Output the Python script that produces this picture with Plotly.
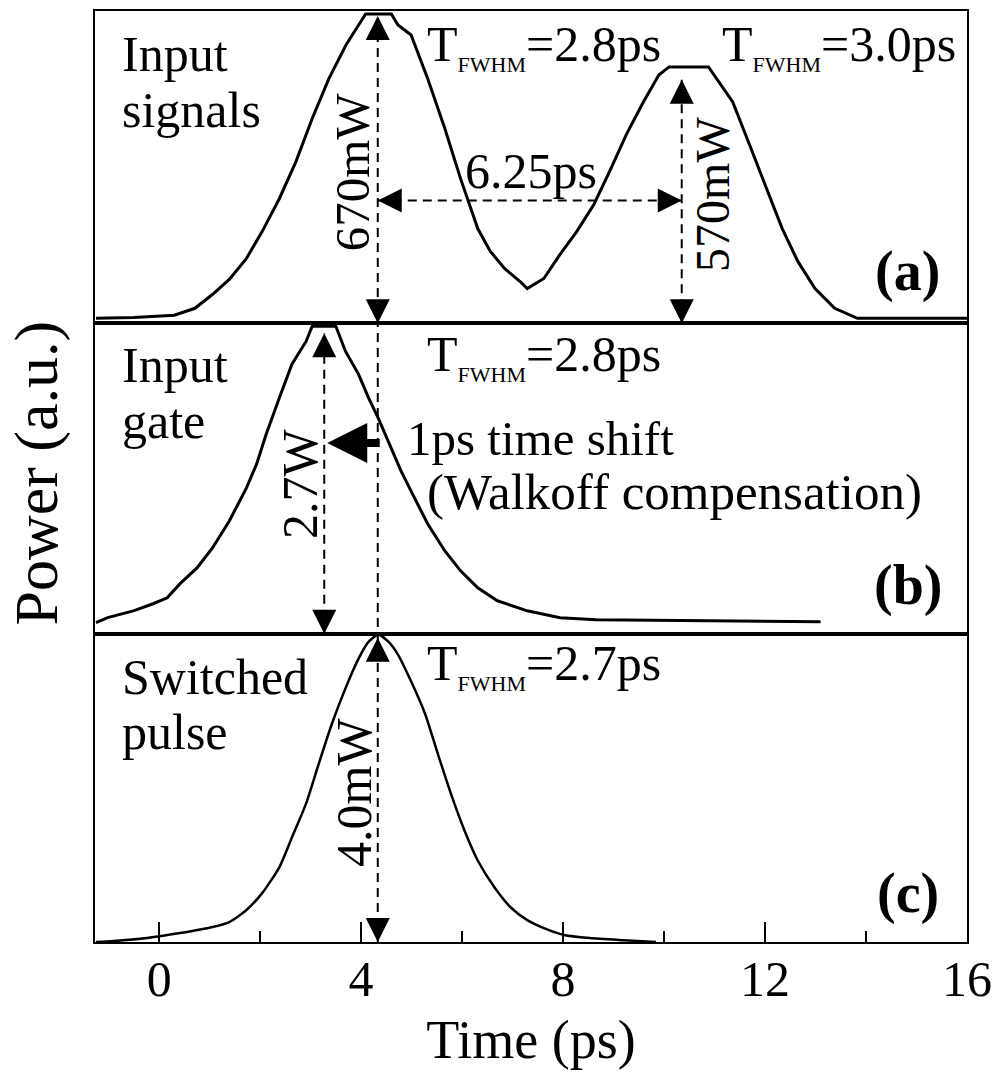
import plotly.graph_objects as go

# ---------------- data ----------------
# (a) input signals, normalised power (first peak = 1)
time_a = [-1.25, -0.5, 0.3, 0.71, 1.06, 1.39, 1.73, 2.04, 2.38, 2.71, 3.03, 3.36, 3.70,
          3.95, 4.09, 4.60, 4.73, 4.99, 5.32, 5.66, 5.97, 6.31, 6.56, 6.84, 7.15, 7.29,
          7.62, 7.94, 8.27, 8.61, 8.92, 9.25, 9.59, 9.90, 10.10, 10.88, 11.08, 11.36,
          11.67, 12.00, 12.34, 12.65, 12.99, 13.38, 13.83, 15.0, 16.0]
signal_a = [0.0, 0.003, 0.01, 0.033, 0.079, 0.128, 0.197, 0.285, 0.393, 0.515, 0.656, 0.787,
            0.898, 0.964, 1.0, 1.0, 0.964, 0.931, 0.787, 0.623, 0.459, 0.295, 0.220, 0.164,
            0.121, 0.098, 0.131, 0.210, 0.285, 0.374, 0.482, 0.603, 0.711, 0.800, 0.826,
            0.826, 0.777, 0.711, 0.580, 0.439, 0.295, 0.187, 0.098, 0.033, 0.0, 0.0, 0.0]

# (b) input gate
time_b = [-1.25, -1.02, -0.51, -0.12, 0.16, 0.41, 0.75, 1.06, 1.39, 1.73, 1.93, 2.12, 2.38,
          2.63, 2.91, 3.03, 3.50, 3.69, 3.95, 4.15, 4.34, 4.54, 4.79, 4.99, 5.32, 5.66,
          5.97, 6.31, 6.70, 7.29, 7.94, 8.66, 10.63, 13.1]
gate_b = [0.0, 0.017, 0.040, 0.064, 0.084, 0.131, 0.185, 0.253, 0.343, 0.455, 0.535, 0.636,
          0.758, 0.872, 0.949, 1.0, 1.0, 0.916, 0.838, 0.758, 0.690, 0.613, 0.512, 0.444,
          0.333, 0.242, 0.175, 0.118, 0.074, 0.040, 0.017, 0.010, 0.007, 0.003]

# (c) switched pulse
time_c = [-1.25, -0.9, -0.24, 0.41, 1.06, 1.39, 1.73, 2.04, 2.38, 2.63, 2.91, 3.16, 3.42,
          3.69, 3.95, 4.15, 4.34, 4.54, 4.73, 4.99, 5.27, 5.52, 5.78, 6.05, 6.31, 6.64,
          6.96, 7.29, 7.62, 8.02, 8.53, 9.19, 9.84]
pulse_c = [0.0, 0.003, 0.013, 0.029, 0.049, 0.065, 0.104, 0.159, 0.243, 0.340, 0.450, 0.579,
           0.709, 0.825, 0.922, 0.977, 1.0, 0.977, 0.935, 0.848, 0.741, 0.612, 0.482, 0.362,
           0.265, 0.178, 0.113, 0.071, 0.045, 0.023, 0.013, 0.006, 0.0]

tick_vals = [0, 4, 8, 12, 16]
tick_text = ["0", "4", "8", "12", "16"]

# ---------------- figure ----------------
W, H = 1001, 1080
L, R, T, B = 95, 26, 9, 138
PW, PH = W - L - R, H - T - B
FONT = "Liberation Serif, Times New Roman, serif"


def px(xp):
    return (xp - L) / PW


def py(yp):
    return (H - B - yp) / PH


fig = go.Figure()
fig.add_trace(go.Scatter(x=time_a, y=signal_a, mode="lines", xaxis="x", yaxis="y",
                         line=dict(color="black", width=3), showlegend=False))
fig.add_trace(go.Scatter(x=time_b, y=gate_b, mode="lines", xaxis="x2", yaxis="y2",
                         line=dict(color="black", width=3), showlegend=False))
fig.add_trace(go.Scatter(x=time_c, y=pulse_c, mode="lines", xaxis="x3", yaxis="y3",
                         line=dict(color="black", width=2.5, shape="spline", smoothing=0.6),
                         showlegend=False))

xr = [-1.27, 16]
frame = dict(showline=True, mirror=True, linecolor="black", linewidth=2,
             showgrid=False, zeroline=False)
b_ab, b_bc = py(322), py(633)

fig.update_layout(
    width=W, height=H, margin=dict(l=L, r=R, t=T, b=B),
    paper_bgcolor="white", plot_bgcolor="white",
    font=dict(family=FONT, color="black"),
    xaxis=dict(range=xr, anchor="y", showticklabels=False, ticks="", **frame),
    xaxis2=dict(range=xr, anchor="y2", showticklabels=False, ticks="", **frame),
    xaxis3=dict(range=xr, anchor="y3", tickvals=tick_vals, ticktext=tick_text,
                ticks="inside", ticklen=20, tickwidth=2, tickcolor="black",
                minor=dict(dtick=2, tick0=0, ticks="inside", ticklen=11, tickwidth=2,
                           tickcolor="black"),
                tickfont=dict(size=50, family=FONT), ticklabelstandoff=-8,
                title=dict(text="Time (ps)", font=dict(size=54, family=FONT), standoff=14),
                **frame),
    yaxis=dict(domain=[b_ab, 1], range=[-0.0164, 1.0098], showticklabels=False, ticks="", **frame),
    yaxis2=dict(domain=[b_bc, b_ab], range=[-0.037, 1.0101], showticklabels=False, ticks="", **frame),
    yaxis3=dict(domain=[0, b_bc], range=[0, 1.003], showticklabels=False, ticks="", **frame),
)

# ---------------- dashed guide lines ----------------
DASH = "9px,6px"
shapes = [
    dict(x0=4.33, x1=4.33, y0=py(942), y1=py(14)),      # through all panels
    dict(x0=10.35, x1=10.35, y0=py(322), y1=py(78)),    # 570 mW
    dict(x0=3.27, x1=3.27, y0=py(633), y1=py(332)),     # 2.7 W
    dict(x0=4.33, x1=10.35, y0=py(199), y1=py(199)),    # 6.25 ps
]
for s in shapes:
    fig.add_shape(type="line", xref="x", yref="paper", layer="above",
                  line=dict(color="black", width=2, dash=DASH), **s)

# arrow heads (tip, tail offset in pixels)
heads = [
    (4.33, 14, 0, 22), (4.33, 322, 0, -22),
    (10.35, 78, 0, 22), (10.35, 322, 0, -22),
    (4.33, 199, 22, 0), (10.35, 199, -22, 0),
    (3.27, 332, 0, 22), (3.27, 633, 0, -22),
    (4.33, 637, 0, 22), (4.33, 942, 0, -22),
]
for x, yp, ax, ay in heads:
    fig.add_annotation(x=x, y=py(yp), xref="x", yref="paper", ax=ax, ay=ay,
                       text="", showarrow=True, arrowhead=2, arrowsize=2.4,
                       arrowwidth=2, arrowcolor="black", standoff=0)

# thick 1 ps shift arrow
fig.add_annotation(x=3.33, y=py(442), xref="x", yref="paper", ax=54, ay=0, text="",
                   showarrow=True, arrowhead=2, arrowsize=1.0, arrowwidth=8,
                   arrowcolor="black", standoff=0)

# ---------------- texts ----------------
SUB = '<sub><span style="font-size:22px">FWHM</span></sub>'
texts = [
    ("Input", 120, 52, "left", 50, 0),
    ("signals", 120, 108, "left", 50, 0),
    ("T" + SUB + "=2.8ps", 428, 45, "left", 50, 0),
    ("T" + SUB + "=3.0ps", 726, 45, "left", 50, 0),
    ("6.25ps", 535, 169, "center", 50, 0),
    ("670mW", 355, 170, "center", 49, -90),
    ("570mW", 718, 193, "center", 48, -90),
    ("<b>(a)</b>", 915, 270, "center", 56, 0),
    ("Input", 120, 364, "left", 50, 0),
    ("gate", 120, 420, "left", 50, 0),
    ("T" + SUB + "=2.8ps", 428, 355, "left", 50, 0),
    ("2.7W", 302, 483, "center", 50, -90),
    ("1ps time shift", 408, 437, "left", 49, 0),
    ("(Walkoff compensation)", 428, 491, "left", 51, 0),
    ("<b>(b)</b>", 915, 585, "center", 56, 0),
    ("Switched", 120, 676, "left", 50, 0),
    ("pulse", 120, 732, "left", 50, 0),
    ("T" + SUB + "=2.7ps", 428, 665, "left", 50, 0),
    ("4.0mW", 357, 792, "center", 50, -90),
    ("<b>(c)</b>", 915, 893, "center", 56, 0),
    ("Power (a.u.)", 35, 472, "center", 62, -90),
]
for t, xp, yp, anc, size, ang in texts:
    fig.add_annotation(x=px(xp), y=py(yp), xref="paper", yref="paper", text=t,
                       showarrow=False, xanchor=anc, yanchor="middle", textangle=ang,
                       font=dict(size=size, family=FONT, color="black"))

fig.write_html("out.html")
